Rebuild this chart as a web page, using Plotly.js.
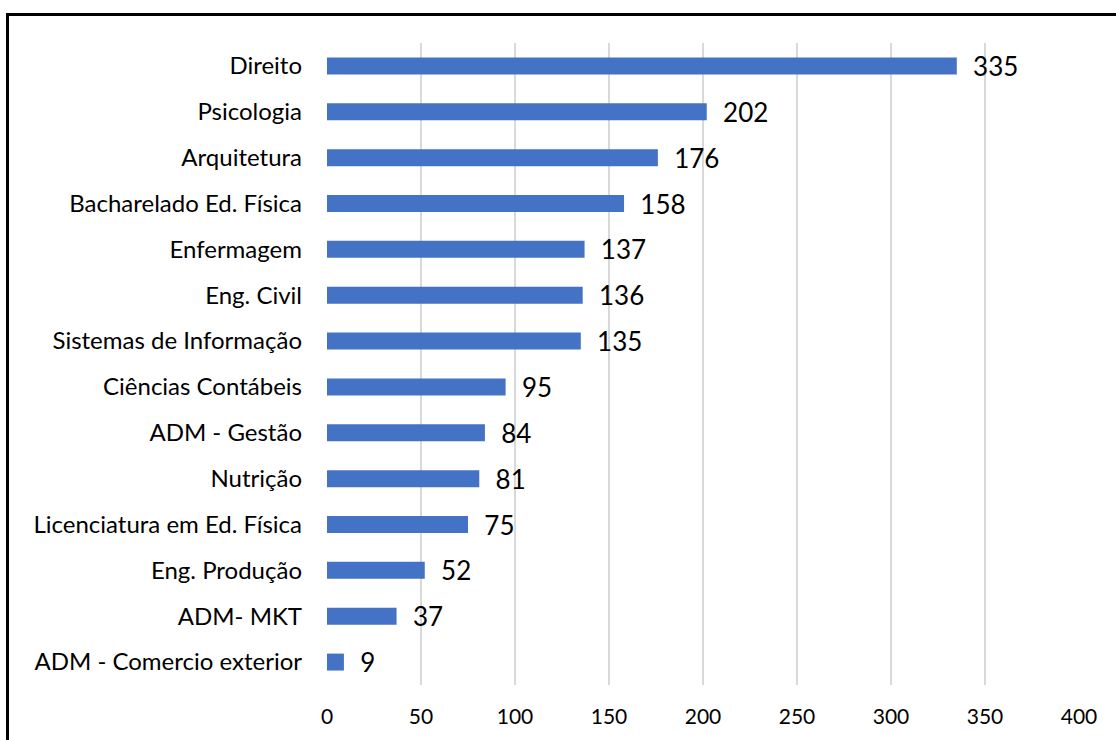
<!DOCTYPE html>
<html>
<head>
<meta charset="utf-8">
<script src="https://cdn.plot.ly/plotly-3.0.1.min.js"></script>
<style>
html,body{margin:0;padding:0;overflow:hidden;background:#fff;}
#wrap{position:relative;width:1116px;height:740px;overflow:hidden;}
#chart{position:absolute;left:0;top:0;width:1116px;height:740px;}
#frame{position:absolute;left:6px;top:13px;width:1200px;height:800px;border:3px solid #000;box-sizing:border-box;pointer-events:none;}
</style>
</head>
<body>
<div id="wrap"><div id="chart"></div><div id="frame"></div></div>
<script>
const categories = ["Direito","Psicologia","Arquitetura","Bacharelado Ed. Física","Enfermagem","Eng. Civil","Sistemas de Informação","Ciências Contábeis","ADM - Gestão","Nutrição","Licenciatura em Ed. Física","Eng. Produção","ADM- MKT","ADM - Comercio exterior"];
const values = [335,202,176,158,137,136,135,95,84,81,75,52,37,9];
const xTicks = [0,50,100,150,200,250,300,350,400];

const font = "Lato, 'Open Sans', sans-serif";
Plotly.newPlot('chart', [{
  type: 'bar',
  orientation: 'h',
  x: values,
  y: categories,
  marker: {color: '#4472C4'},
  width: 0.37,
  text: values.map(v => '\u00a0\u00a0' + v),
  texttemplate: '%{text}',
  textposition: 'outside',
  constraintext: 'none',
  cliponaxis: false,
  textfont: {family: font, size: 26, color: '#000'},
  hoverinfo: 'none'
}], {
  width: 1116, height: 740,
  margin: {l: 327, r: 37, t: 43, b: 55},
  paper_bgcolor: '#fff', plot_bgcolor: '#fff',
  showlegend: false,
  font: {family: font, color: '#000'},
  xaxis: {
    range: [0, 400], tickvals: xTicks, ticktext: xTicks.map(String),
    showgrid: true, gridcolor: '#D9D9D9', gridwidth: 2,
    zeroline: false, showline: false, ticks: '',
    ticklabelstandoff: 17,
    tickfont: {family: font, size: 21, color: '#000'}
  },
  yaxis: {
    type: 'category', categoryorder: 'array', categoryarray: categories,
    autorange: 'reversed', showgrid: false, zeroline: false, showline: false,
    ticks: '', ticklabelstandoff: 24,
    tickfont: {family: font, size: 24, color: '#000'}
  }
}, {staticPlot: true});
</script>
</body>
</html>
